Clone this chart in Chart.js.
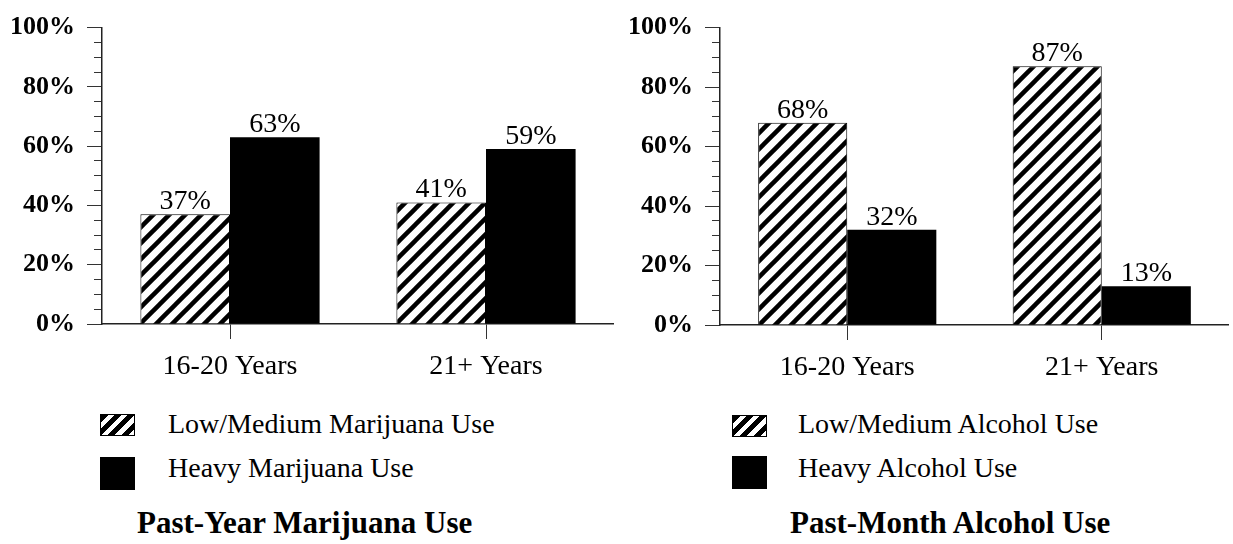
<!DOCTYPE html>
<html>
<head>
<meta charset="utf-8">
<script src="https://cdn.jsdelivr.net/npm/chart.js@4.4.0/dist/chart.umd.min.js"></script>
<style>
    body { margin: 0; width: 1233px; height: 544px; background: #fff; position: relative; overflow: hidden; font-family: 'Liberation Serif', serif; color: #000; }
    canvas { position: absolute; top: 0; }
    #leftChart { left: 0; }
    #rightChart { left: 620px; }
    .swatch { position: absolute; box-sizing: border-box; width: 35px; }
    .hatch { height: 22px; border: 1px solid #000; background: repeating-linear-gradient(135deg, #000 0 5px, #fff 5px 9.5px); }
    .solid { height: 33px; background: #000; }
    .legend-text { position: absolute; font-size: 28px; line-height: 28px; white-space: nowrap; }
    .title { position: absolute; font-size: 31px; line-height: 31px; font-weight: bold; white-space: nowrap; }
</style>
</head>
<body>
<canvas id="leftChart" width="614" height="400"></canvas>
<canvas id="rightChart" width="609" height="400"></canvas>

<div class="swatch hatch" style="left:100px; top:414px;"></div>
<div class="swatch solid" style="left:100px; top:457px;"></div>
<div class="legend-text" style="left:168px; top:410px;">Low/Medium Marijuana Use</div>
<div class="legend-text" style="left:168px; top:454px;">Heavy Marijuana Use</div>
<div class="title" style="left:137px; top:507px;">Past-Year Marijuana Use</div>

<div class="swatch hatch" style="left:732px; top:415px;"></div>
<div class="swatch solid" style="left:732px; top:456px;"></div>
<div class="legend-text" style="left:798px; top:410px;">Low/Medium Alcohol Use</div>
<div class="legend-text" style="left:798px; top:454px;">Heavy Alcohol Use</div>
<div class="title" style="left:790px; top:507px;">Past-Month Alcohol Use</div>

<script>
// valores
const categories = ['16-20 Years', '21+ Years'];
const marijuanaLow = [37, 41];
const marijuanaHeavy = [63, 59];
const alcoholLow = [68, 87];
const alcoholHeavy = [32, 13];
const yMajorTicks = [0, 20, 40, 60, 80, 100];

Chart.defaults.font.family = "'Liberation Serif', serif";
Chart.defaults.color = '#000';

// padrao listrado (/) para as barras baixo/medio
function hatchPattern() {
    const s = 16;
    const c = document.createElement('canvas');
    c.width = s;
    c.height = s;
    const g = c.getContext('2d');
    g.fillStyle = '#fff';
    g.fillRect(0, 0, s, s);
    g.strokeStyle = '#000';
    g.lineWidth = 4.5;
    // linhas x + y = k
    [0, s, 2 * s].forEach(k => {
        g.beginPath();
        g.moveTo(-2, k + 2);
        g.lineTo(k + 2, -2);
        g.stroke();
    });
    return g.createPattern(c, 'repeat');
}

// rotulos de valor em cima das barras
const valueLabels = {
    id: 'valueLabels',
    afterDatasetsDraw(chart) {
        const ctx = chart.ctx;
        ctx.save();
        ctx.font = "28px 'Liberation Serif'";
        ctx.fillStyle = '#000';
        ctx.textAlign = 'center';
        ctx.textBaseline = 'alphabetic';
        chart.data.datasets.forEach((ds, i) => {
            chart.getDatasetMeta(i).data.forEach((bar, j) => {
                ctx.fillText(ds.data[j] + '%', bar.x, bar.y - 5);
            });
        });
        ctx.restore();
    }
};

function makeChart(id, lowData, heavyData, yWidth, xHeight) {
    return new Chart(document.getElementById(id), {
        type: 'bar',
        data: {
            labels: categories,
            datasets: [
                { data: lowData, backgroundColor: hatchPattern(), borderColor: '#000', borderWidth: 1 },
                { data: heavyData, backgroundColor: '#000', borderColor: '#000', borderWidth: 0 }
            ]
        },
        options: {
            responsive: false,
            animation: false,
            events: [],
            layout: { padding: { top: 20, right: 0, bottom: 0, left: 0 } },
            plugins: { legend: { display: false }, tooltip: { enabled: false } },
            datasets: { bar: { categoryPercentage: 0.7, barPercentage: 1 } },
            scales: {
                x: {
                    offset: true,
                    grid: { offset: false, drawOnChartArea: false, tickLength: 15, tickColor: '#333', tickWidth: 1 },
                    border: { color: '#222', width: 1.5 },
                    ticks: { padding: 11, font: { size: 28 } },
                    afterFit(scale) { scale.height = xHeight; }
                },
                y: {
                    min: 0,
                    max: 100,
                    ticks: {
                        stepSize: 5,
                        autoSkip: false,
                        padding: 12,
                        font: { size: 26, weight: 'bold' },
                        callback: v => yMajorTicks.includes(v) ? v + '%' : ''
                    },
                    grid: {
                        drawOnChartArea: false,
                        tickLength: 15,
                        tickColor: '#333',
                        tickWidth: 1,
                        tickBorderDash: ctx => yMajorTicks.includes(ctx.tick.value) ? [] : [0, 7, 8, 0]
                    },
                    border: { color: '#222', width: 1.5 },
                    afterFit(scale) { scale.width = yWidth; }
                }
            }
        },
        plugins: [valueLabels]
    });
}

makeChart('leftChart', marijuanaLow, marijuanaHeavy, 102, 76);
makeChart('rightChart', alcoholLow, alcoholHeavy, 100, 75);
</script>
</body>
</html>
